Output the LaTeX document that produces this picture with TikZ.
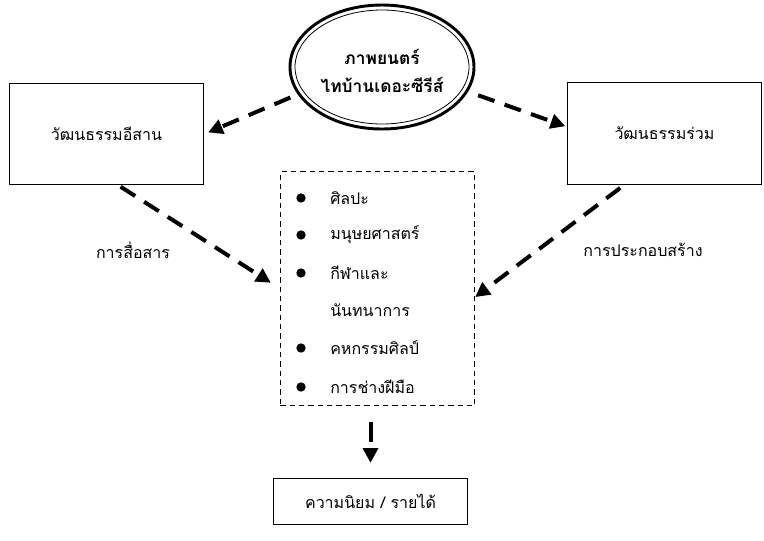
\documentclass[tikz,border=0pt]{standalone}
\usepackage{fontspec}
\setmainfont[Script=Thai]{Loma}
\usetikzlibrary{arrows.meta,shapes.geometric,positioning}

\tikzset{
	culturebox/.style={draw,line width=0.9pt,minimum width=146pt,minimum height=76pt,font=\fontsize{12}{14}\selectfont},
	flowarrow/.style={line width=3pt,dash pattern=on 13pt off 8pt,-{Triangle[length=11pt,width=11pt]}},
	itemtext/.style={anchor=west,inner sep=0pt,font=\fontsize{12}{14}\selectfont},
	bulletdot/.style={circle,fill,inner sep=0pt,minimum size=7pt},
	edgelabel/.style={font=\fontsize{12}{14}\selectfont}
}

\begin{document}
\begin{tikzpicture}[x=0.75pt,y=0.75pt,yscale=-1,xscale=1]
		\useasboundingbox (0,0) rectangle (764,540);
		
		%Shape: Ellipse (film)
		\node (film) [ellipse,draw,line width=2.2pt,minimum width=138pt,minimum height=93pt] at (382,67) {};
		\draw [line width=0.6pt] (film.center) ellipse (87 and 57);
		\node (filmtitle) [font=\bfseries\fontsize{13}{15}\selectfont,align=center] at (382,71) {ภาพยนตร์\\[6pt]ไทบ้านเดอะซีรีส์};
		
		%Shape: Rectangles
		\node (isan) [culturebox] at (106.5,134) {วัฒนธรรมอีสาน};
		\node (commons) [culturebox] at (664.5,133.5) {วัฒนธรรมร่วม};
		\node (result) [draw,line width=0.9pt,minimum width=146pt,minimum height=35pt,font=\fontsize{12}{14}\selectfont] at (370.5,501.5) {ความนิยม / รายได้};
		
		%Shape: Dashed list box
		\node (list) [draw,line width=0.6pt,dash pattern=on 4pt off 3pt,minimum width=146pt,minimum height=175pt] at (377.5,288.5) {};
		
		% Bullets and items
		\node (b1) [bulletdot] at (301,198) {};
		\node (b2) [bulletdot] at (301,235) {};
		\node (b3) [bulletdot] at (301,273) {};
		\node (b4) [bulletdot] at (301,348) {};
		\node (b5) [bulletdot] at (301,387) {};
		\node (art) [itemtext] at (330,198) {ศิลปะ};
		\node (human) [itemtext] at (330,235) {มนุษยศาสตร์};
		\node (sport) [itemtext] at (330,273) {กีฬาและ};
		\node (recreation) [itemtext] at (330,310) {นันทนาการ};
		\node (home) [itemtext] at (330,348) {คหกรรมศิลป์};
		\node (craft) [itemtext] at (330,387) {การช่างฝีมือ};
		
		%Straight Lines (dashed arrows)
		\draw [flowarrow,shorten <=6pt,shorten >=3pt] (film.198) -- (isan.east);
		\draw [flowarrow,shorten <=8pt,shorten >=1pt] (film.-16) -- (commons.176);
		\draw [flowarrow,shorten <=2pt,shorten >=8pt] (isan.-77) -- (list.west);
		\draw [flowarrow,shorten <=4pt] (commons.-128) -- (list.-5);
		\draw [flowarrow,dash pattern=on 15pt off 6pt,shorten <=12pt,shorten >=11pt] (result.north |- list.south) -- (result.north);
		
		% Text Node
		\node (sendlabel) [edgelabel] at (133,250) {การสื่อสาร};
		\node (buildlabel) [edgelabel] at (643,250) {การประกอบสร้าง};
		
\end{tikzpicture}
\end{document}
